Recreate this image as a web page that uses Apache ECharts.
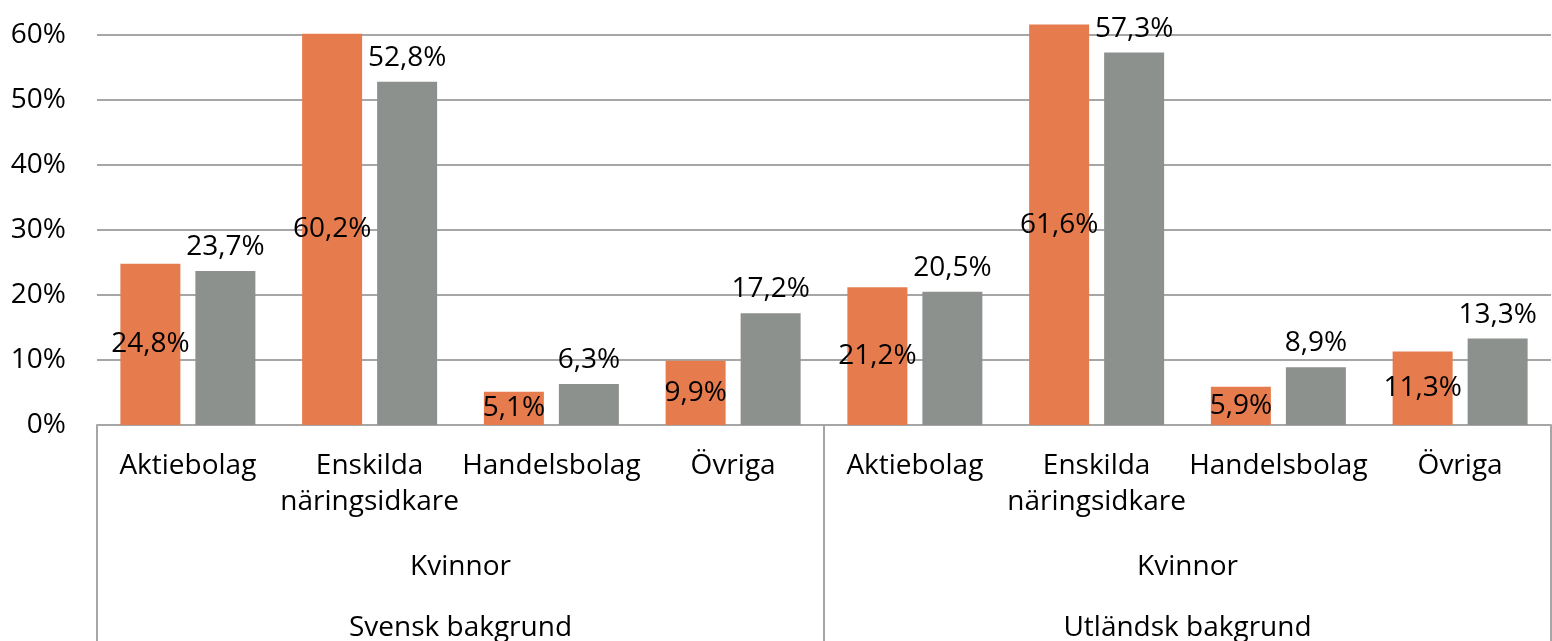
<!DOCTYPE html>
<html><head><meta charset="utf-8">
<script src="https://cdn.jsdelivr.net/npm/echarts@6/dist/echarts.min.js"></script>
<style>html,body{margin:0;padding:0;background:#fff}#c{width:1552px;height:641px}</style>
</head><body><div id="c"></div>
<script>
const categories = ["Aktiebolag","Enskilda\nnäringsidkare","Handelsbolag","Övriga","Aktiebolag","Enskilda\nnäringsidkare","Handelsbolag","Övriga"];
const genderLabels = ["Kvinnor","Kvinnor"];
const backgroundLabels = ["Svensk bakgrund","Utländsk bakgrund"];
const seriesOrange = [24.8, 60.2, 5.1, 9.9, 21.2, 61.6, 5.9, 11.3];
const seriesGray = [23.7, 52.8, 6.3, 17.2, 20.5, 57.3, 8.9, 13.3];
const yTicks = [0, 10, 20, 30, 40, 50, 60];

const FONT = 'Open Sans';
const FS = 28;
const fmt = v => v.toFixed(1).replace('.', ',') + '%';
const chart = echarts.init(document.getElementById('c'));
chart.setOption({
  animation: false,
  textStyle: {fontFamily: FONT},
  grid: {left: 97, right: 1, top: 35, bottom: 216, containLabel: false, outerBoundsMode: 'none'},
  xAxis: [
    {type: 'category', data: categories, position: 'bottom',
     axisLine: {show: true, lineStyle: {color: '#a6a6a6', width: 2}},
     axisTick: {show: false},
     axisLabel: {interval: 0, color: '#000', fontFamily: FONT, fontSize: FS, margin: 23, lineHeight: 36}},
    {type: 'category', data: genderLabels, position: 'bottom', offset: 0,
     axisLine: {show: false},
     axisTick: {show: true, length: 216, lineStyle: {color: '#a6a6a6', width: 2}},
     axisLabel: {interval: 0, color: '#000', fontFamily: FONT, fontSize: FS, margin: 124, lineHeight: 36}},
    {type: 'category', data: backgroundLabels, position: 'bottom', offset: 0,
     axisLine: {show: false}, axisTick: {show: false},
     axisLabel: {interval: 0, color: '#000', fontFamily: FONT, fontSize: FS, margin: 185, lineHeight: 36}}
  ],
  yAxis: {type: 'value', min: 0, max: 60, interval: 10,
    axisLine: {show: false}, axisTick: {show: false},
    splitLine: {lineStyle: {color: '#a6a6a6', width: 2}},
    axisLabel: {color: '#000', fontFamily: FONT, fontSize: FS, margin: 31,
      formatter: v => yTicks.includes(v) ? v + '%' : ''}},
  series: [
    {type: 'bar', data: seriesOrange, xAxisIndex: 0, barWidth: 60, barGap: '25%', clip: false,
     itemStyle: {color: '#E67C4E'},
     label: {show: true, position: 'inside', color: '#000', fontFamily: FONT, fontSize: FS, formatter: p => fmt(p.value)}},
    {type: 'bar', data: seriesGray, xAxisIndex: 0, barWidth: 60, barGap: '25%', clip: false,
     itemStyle: {color: '#8C918E'},
     label: {show: true, position: 'top', distance: 10, color: '#000', fontFamily: FONT, fontSize: FS, formatter: p => fmt(p.value)}}
  ]
});
</script></body></html>
